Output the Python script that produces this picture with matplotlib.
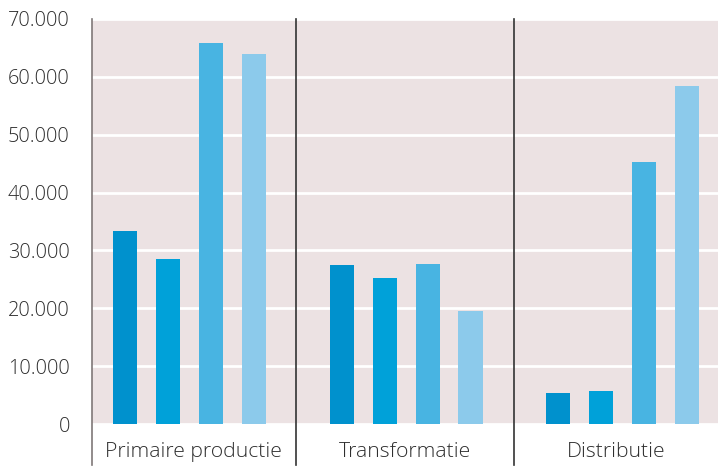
import matplotlib.pyplot as plt
import matplotlib.transforms as mtransforms
import numpy as np

plt.rcParams['font.family'] = ['Open Sans', 'DejaVu Sans']

groups = ['Primaire productie', 'Transformatie', 'Distributie']
series = [
    [33300, 27400, 5300],
    [28600, 25200, 5700],
    [65900, 27600, 45300],
    [64000, 19500, 58400],
]
colors = ['#0091cd', '#00a1d9', '#48b4e2', '#8ccaeb']
yticks = np.arange(0, 70001, 10000)
ytick_labels = ['0', '10.000', '20.000', '30.000', '40.000', '50.000', '60.000', '70.000']

fig = plt.figure(figsize=(7.18, 4.67), dpi=100)
ax = fig.add_axes([92 / 718, 43 / 467, 1 - 92 / 718, 405 / 467])
ax.set_facecolor('#ece2e3')

group_step = 5.04
for i, vals in enumerate(series):
    x = np.arange(len(groups)) * group_step + i
    ax.bar(x, vals, width=0.56, color=colors[i], zorder=3)

ax.set_xlim(-0.77, 13.8)
ax.set_ylim(0, 70000)
ax.set_yticks(yticks)
ax.set_yticklabels(ytick_labels, fontweight='light')
ax.yaxis.grid(True, color='white', linewidth=2, zorder=1)
ax.set_axisbelow(True)
ax.tick_params(axis='y', length=0, pad=16, labelsize=14.3, labelcolor='#2e2e2e')
ax.set_xticks([])

for s in ['top', 'right', 'bottom', 'left']:
    ax.spines[s].set_visible(False)

# separators reaching down into the label area
trans = mtransforms.blended_transform_factory(ax.transData, ax.transAxes)
seps = [-0.77, 3.97, 9.05]
sep_colors = ['#7f7878', '#333333', '#333333']
for sx, sc in zip(seps, sep_colors):
    ax.plot([sx, sx], [-0.1, 1.0], color=sc, linewidth=1.2, transform=trans,
            clip_on=False, zorder=4)

bounds = seps + [13.8]
for k, name in enumerate(groups):
    cx = (bounds[k] + bounds[k + 1]) / 2
    ax.text(cx, -0.068, name, transform=trans, ha='center', va='center',
            fontsize=15.2, fontweight='light', color='#2e2e2e')

fig.savefig('out.png', dpi=100)
